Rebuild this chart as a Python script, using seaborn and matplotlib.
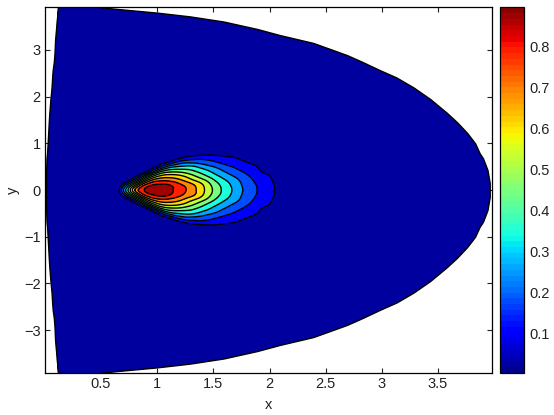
import numpy as np
import matplotlib
matplotlib.use("Agg")
import matplotlib.pyplot as plt
from matplotlib.colors import ListedColormap, Normalize
from matplotlib.cm import ScalarMappable
from matplotlib.tri import Triangulation, UniformTriRefiner, CubicTriInterpolator
import seaborn as sns

# field values: columns are x, rows are |y|
x_cols = [0.6, 0.65, 0.7, 0.75, 0.8, 0.85, 0.9, 1.0, 1.1, 1.2, 1.3, 1.4, 1.5, 1.6, 1.7, 1.8, 1.9, 2.0, 2.1, 2.2]
y_rows = [0.0, 0.1, 0.2, 0.3, 0.4, 0.5, 0.6, 0.7, 0.8, 0.9]
col_060 = [0, 0, 0, 0, 0, 0, 0, 0, 0, 0]
col_065 = [.05, .03, 0, 0, 0, 0, 0, 0, 0, 0]
col_070 = [.265, .16, .03, 0, 0, 0, 0, 0, 0, 0]
col_075 = [.48, .35, .11, 0, 0, 0, 0, 0, 0, 0]
col_080 = [.698, .52, .26, .06, 0, 0, 0, 0, 0, 0]
col_085 = [.82, .70, .43, .17, .01, 0, 0, 0, 0, 0]
col_090 = [.885, .82, .60, .33, .07, 0, 0, 0, 0, 0]
col_100 = [.89, .885, .769, .589, .347, .106, .02, 0, 0, 0]
col_110 = [.885, .88, .776, .654, .494, .295, .0925, .01, 0, 0]
col_120 = [.833, .81, .725, .63, .50, .36, .203, .06, 0, 0]
col_130 = [.746, .73, .644, .558, .463, .37, .239, .121, .02, 0]
col_140 = [.637, .625, .56, .474, .40, .318, .226, .137, .04, 0]
col_150 = [.515, .50, .455, .39, .331, .265, .19, .129, .05, 0]
col_160 = [.41, .40, .365, .315, .262, .207, .155, .109, .04, 0]
col_170 = [.32, .31, .29, .25, .205, .165, .13, .085, .02, 0]
col_180 = [.235, .23, .215, .19, .155, .125, .09, .03, 0, 0]
col_190 = [.172, .168, .155, .135, .105, .085, .03, 0, 0, 0]
col_200 = [.112, .11, .106, .093, .05, 0, 0, 0, 0, 0]
col_210 = [.075, .072, .055, .02, 0, 0, 0, 0, 0, 0]
col_220 = [.04, .03, .02, .01, 0, 0, 0, 0, 0, 0]

levels = [.0925, .179, .265, .352, .438, .525, .612, .698, .785, .871]

# outline of the domain, upper half (mirrored below)
edge_y = [0, .15, .43, .68, .79, 1.0, 1.22, 1.45, 1.65, 1.95, 2.20, 2.41, 2.57, 2.74, 2.89, 3.02, 3.15, 3.235, 3.32, 3.45, 3.61, 3.72, 3.80, 3.88, 3.94]
edge_left = [.01, .01, .012, .015, .02, .025, .03, .035, .04, .05, .06, .065, .07, .08, .085, .088, .09, .092, .095, .1, .105, .11, .11, .115, .115]
edge_right = [3.96, 3.96, 3.94, 3.90, 3.87, 3.83, 3.76, 3.67, 3.58, 3.43, 3.28, 3.13, 2.98, 2.83, 2.69, 2.54, 2.39, 2.24, 2.09, 1.89, 1.59, 1.29, 1.0, .64, .4]

x_ticks = [0.5, 1, 1.5, 2, 2.5, 3, 3.5]
y_ticks = [-3, -2, -1, 0, 1, 2, 3]
cbar_ticks = [.1, .2, .3, .4, .5, .6, .7, .8]
c_min, c_max = 0.006, 0.894

sns.set_theme(style="ticks", rc={
    "xtick.direction": "in", "ytick.direction": "in",
    "xtick.top": True, "ytick.right": True,
    "xtick.major.size": 3.6, "ytick.major.size": 3.6,
    "xtick.major.width": 0.8, "ytick.major.width": 0.8,
    "axes.linewidth": 0.9, "axes.edgecolor": "black",
    "xtick.color": "#222222", "ytick.color": "#222222",
})
plt.rcParams["font.family"] = ["Liberation Sans", "DejaVu Sans"]

W, H = 554, 415
fig = plt.figure(figsize=(W / 100, H / 100), dpi=100)
ax = fig.add_axes([45 / W, (H - 372.5) / H, 446.5 / W, 365 / H])
cax = fig.add_axes([499.5 / W, (H - 372.5) / H, 24.5 / W, 365 / H])

jet = ListedColormap(sns.mpl_palette("jet", 64))
norm = Normalize(c_min, c_max)

ey = np.array(edge_y)
ex_l = np.array(edge_left)
ex_r = np.array(edge_right)
ax.fill_betweenx(np.r_[-ey[::-1], ey[1:]], np.r_[ex_l[::-1], ex_l[1:]], np.r_[ex_r[::-1], ex_r[1:]],
                 facecolor=jet(0.02), edgecolor="black", linewidth=1.0)

half = np.array([col_060, col_065, col_070, col_075, col_080, col_085, col_090, col_100, col_110, col_120,
                 col_130, col_140, col_150, col_160, col_170, col_180, col_190, col_200, col_210, col_220]).T
Z = np.vstack([half[:0:-1], half])
Y = np.r_[-np.array(y_rows)[:0:-1], y_rows]
gx, gy = np.meshgrid(x_cols, Y)
tri = Triangulation(gx.ravel(), gy.ravel())
fine_tri, fine_z = UniformTriRefiner(tri).refine_field(
    Z.ravel(), triinterpolator=CubicTriInterpolator(tri, Z.ravel(), kind="min_E"), subdiv=3)
bands = levels + [1.0]
ax.tricontourf(fine_tri, fine_z, levels=bands, colors=[jet(norm(v)) for v in levels])
ax.tricontour(fine_tri, fine_z, levels=levels, colors="black", linewidths=1.0)

ax.set_xlim(0.0015, 3.976)
ax.set_ylim(-3.91, 3.91)
ax.set_xticks(x_ticks)
ax.set_xticklabels(["0.5", "1", "1.5", "2", "2.5", "3", "3.5"])
ax.set_yticks(y_ticks)
ax.tick_params(labelsize=10.5, pad=3, labelcolor="#222222")
ax.set_xlabel("x", fontsize=10.5, labelpad=5, color="#222222")
ax.set_ylabel("y", fontsize=10.5, labelpad=3, color="#222222")

cb = fig.colorbar(ScalarMappable(norm=norm, cmap=jet), cax=cax, ticks=cbar_ticks)
cb.ax.tick_params(labelsize=10.5, direction="in", length=3.6, width=0.8, left=True, right=True,
                  pad=4, labelcolor="#222222")
cb.outline.set_linewidth(0.9)

fig.savefig("out.png", dpi=100)
